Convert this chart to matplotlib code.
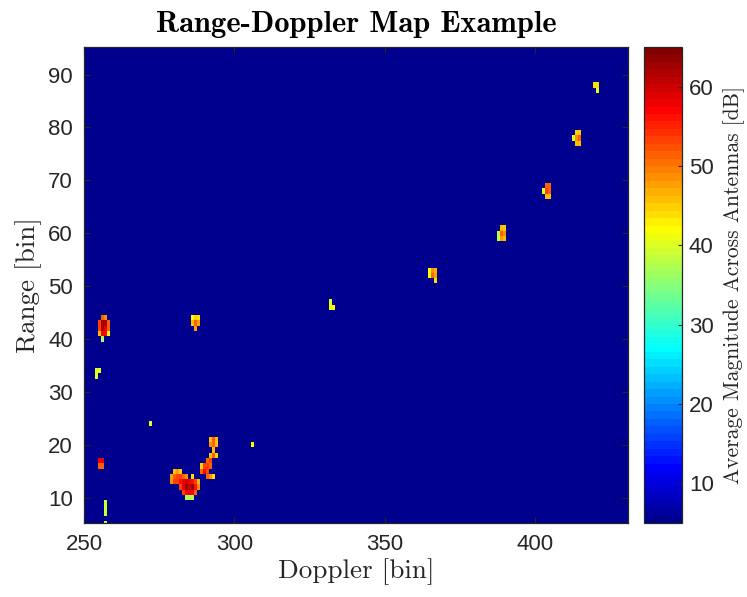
import numpy as np
import matplotlib
matplotlib.use("Agg")
import matplotlib.pyplot as plt
from matplotlib.colors import ListedColormap

# ---------------- data ----------------
doppler_first, doppler_last = 250, 431
range_first, range_last = 5, 95
background_db = 5.0
color_limits = (5.0, 65.0)

x_ticks = [250, 300, 350, 400]
y_ticks = [10, 20, 30, 40, 50, 60, 70, 80, 90]
cbar_ticks = [10, 20, 30, 40, 50, 60]

# detected cells: doppler bin, range bin, magnitude [dB]
cell_doppler = [
    256, 257, 255, 256, 257, 258, 255, 256, 257, 258, 255, 256, 257, 258, 256,
    254, 255, 254,
    255, 256, 255, 256,
    257, 257, 257, 257,
    272, 306,
    280, 281, 282,
    279, 280, 281, 282, 283, 284, 286,
    279, 280, 281, 282, 283, 284, 285, 286, 287, 288,
    282, 283, 284, 285, 286, 287, 288,
    283, 284, 285, 286, 287,
    284, 285, 286,
    292, 293, 294, 292, 293, 294, 293, 292, 293, 294, 291, 292,
    289, 290, 291, 292, 289, 290, 291, 291, 292, 293,
    286, 287, 288, 286, 287, 288, 287,
    332, 332, 333,
    365, 366, 367, 365, 366, 367, 367,
    389, 390, 388, 389, 390, 388, 389, 390,
    404, 405, 403, 404, 405, 404, 405,
    414, 415, 413, 414, 415, 414, 415,
    420, 421, 421,
]
cell_range = [
    44, 44, 43, 43, 43, 43, 42, 42, 42, 42, 41, 41, 41, 41, 40,
    34, 34, 33,
    17, 17, 16, 16,
    9, 8, 7, 5,
    24, 20,
    15, 15, 15,
    14, 14, 14, 14, 14, 14, 14,
    13, 13, 13, 13, 13, 13, 13, 13, 13, 13,
    12, 12, 12, 12, 12, 12, 12,
    11, 11, 11, 11, 11,
    10, 10, 10,
    21, 21, 21, 20, 20, 20, 19, 18, 18, 18, 17, 17,
    16, 16, 16, 16, 15, 15, 15, 14, 14, 14,
    44, 44, 44, 43, 43, 43, 42,
    47, 46, 46,
    53, 53, 53, 52, 52, 52, 51,
    61, 61, 60, 60, 60, 59, 59, 59,
    69, 69, 68, 68, 68, 67, 67,
    79, 79, 78, 78, 78, 77, 77,
    88, 88, 87,
]
cell_db = [
    51, 49, 53, 62, 63, 51, 53, 62, 58, 51, 46, 57, 57, 42, 37,
    40, 40, 40,
    58, 58, 51, 51,
    39, 39, 39, 39,
    40, 42,
    46, 48, 45,
    48, 51, 53, 53, 51, 49, 44,
    49, 53, 53, 56, 58, 60, 58, 56, 53, 47,
    53, 58, 63, 60, 63, 56, 49,
    53, 57, 58, 57, 51,
    37, 37, 37,
    46, 51, 46, 49, 51, 46, 46, 46, 51, 45, 51, 53,
    45, 53, 53, 51, 51, 57, 53, 51, 49, 44,
    42, 45, 44, 46, 51, 48, 48,
    40, 41, 42,
    42, 49, 47, 42, 51, 48, 44,
    46, 45, 38, 51, 49, 38, 48, 46,
    51, 51, 40, 53, 51, 46, 46,
    45, 45, 40, 49, 51, 46, 46,
    44, 44, 40,
]


def matlab_jet(m=64):
    n = int(np.ceil(m / 4))
    u = np.concatenate([np.arange(1, n + 1) / n, np.ones(n - 1), np.arange(n, 0, -1) / n])
    g = int(np.ceil(n / 2)) - (1 if m % 4 == 1 else 0) + np.arange(1, len(u) + 1)
    r = g + n
    b = g - n
    gk = g[g <= m]
    rk = r[r <= m]
    bk = b[b >= 1]
    J = np.zeros((m, 3))
    J[rk - 1, 0] = u[:len(rk)]
    J[gk - 1, 1] = u[:len(gk)]
    J[bk - 1, 2] = u[len(u) - len(bk):]
    return ListedColormap(J)


cmap = matlab_jet(64)

doppler_bins = np.arange(doppler_first, doppler_last + 1)
range_bins = np.arange(range_first, range_last + 1)
Z = np.full((len(range_bins), len(doppler_bins)), background_db)
for d, r, v in zip(cell_doppler, cell_range, cell_db):
    Z[r - range_first, d - doppler_first] = v

plt.rcParams["font.family"] = ["Liberation Sans", "DejaVu Sans"]
edge = "#262626"

W, H = 747, 597
fig = plt.figure(figsize=(W / 100, H / 100), dpi=100)
ax = fig.add_axes([84 / W, 1 - 523 / H, 544 / W, 476 / H])
cax = fig.add_axes([644 / W, 1 - 523 / H, 38 / W, 476 / H])

mesh = ax.pcolormesh(doppler_bins, range_bins, Z, cmap=cmap,
                     vmin=color_limits[0], vmax=color_limits[1], shading="nearest")
ax.set_xlim(250, 431)
ax.set_ylim(5.2, 95.2)
ax.set_xticks(x_ticks)
ax.set_yticks(y_ticks)
ax.tick_params(direction="in", length=4, width=0.8, color=edge, labelsize=16,
               labelcolor=edge, top=True, right=True, pad=8)
for s in ax.spines.values():
    s.set_color(edge)
    s.set_linewidth(0.9)

ax.set_xlabel("Doppler [bin]", family="cmr10", fontsize=19.5, color=edge, labelpad=2)
ax.set_ylabel("Range [bin]", family="cmr10", fontsize=19.5, color=edge, labelpad=4)
ax.set_title("Range-Doppler Map Example", family="cmb10", fontsize=22, pad=11)

cb = fig.colorbar(mesh, cax=cax, ticks=cbar_ticks)
cb.outline.set_edgecolor(edge)
cb.outline.set_linewidth(0.9)
cax.tick_params(direction="in", length=3, width=0.8, color=edge, labelsize=16,
                labelcolor=edge, pad=5)
cb.set_label("Average Magnitude Across Antennas [dB]", family="cmr10", fontsize=15.5,
             color=edge, labelpad=7)

fig.savefig("out.png", dpi=100)
